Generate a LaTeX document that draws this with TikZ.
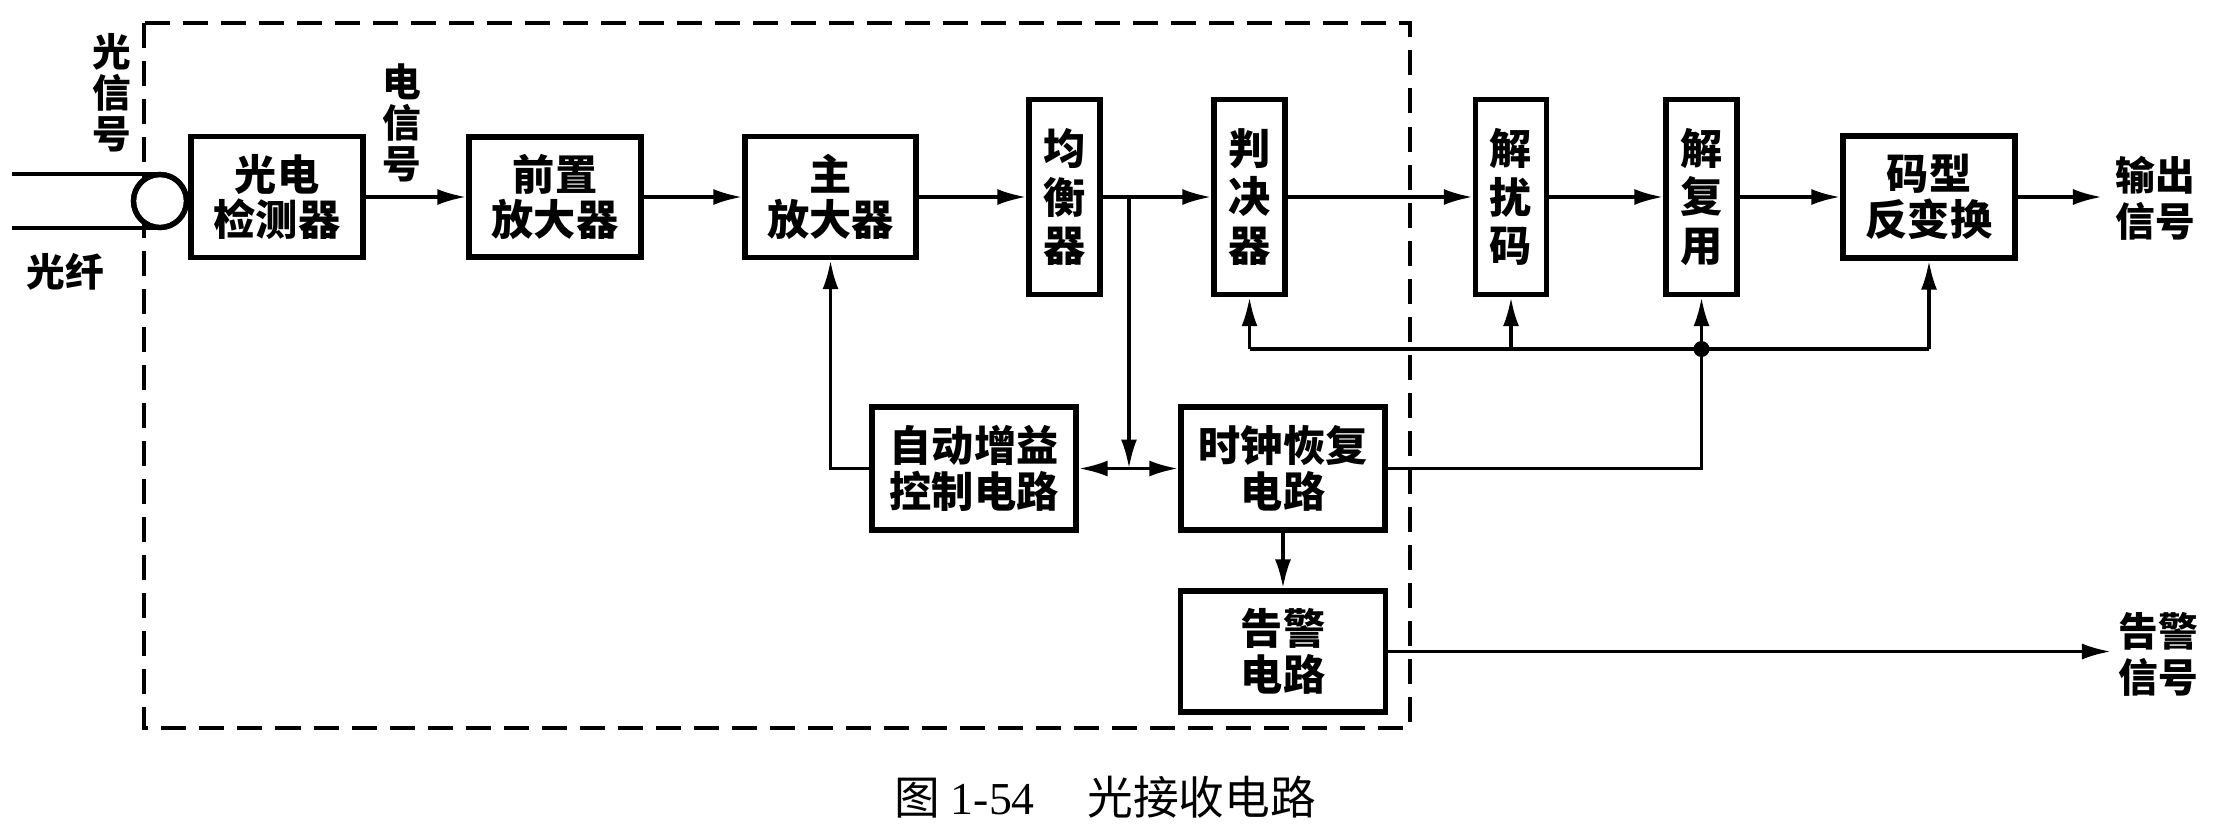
\documentclass[tikz,border=0pt]{standalone}
\usepackage{fontspec}
\setmainfont{Noto Sans CJK SC}
\newfontfamily\serifnum{Liberation Serif}
\usetikzlibrary{arrows.meta}
\begin{document}
\begin{tikzpicture}[x=0.01cm,y=-0.01cm,
  blk/.style={draw,line width=1.5pt,align=center,inner sep=0pt,
    font=\bfseries\fontsize{12pt}{13pt}\selectfont},
  vblk/.style={draw,line width=1.5pt,align=center,inner sep=0pt,
    minimum width=0.71cm,minimum height=1.95cm,
    font=\bfseries\fontsize{12pt}{13.7pt}\selectfont},
  lab/.style={align=center,inner sep=0pt,font=\bfseries\fontsize{11pt}{11.6pt}\selectfont},
  lab2/.style={align=center,inner sep=0pt,font=\bfseries\fontsize{11.3pt}{13pt}\selectfont},
  conn/.style={line width=1pt},
  arr/.style={line width=1pt,-{Latex[length=2.9mm,width=1.6mm]}},
  darr/.style={line width=1pt,{Latex[length=2.9mm,width=1.6mm]}-{Latex[length=2.9mm,width=1.6mm]}},
  frame/.style={line width=0.95pt,dash pattern=on 0.25cm off 0.13cm}]
\useasboundingbox (0,0) rectangle (2220,832);

% dashed enclosure
\draw[frame] (144,23) rectangle (1410,728);

% fibre end
\node[circle,draw,line width=1.5pt,minimum size=0.53cm,inner sep=0pt,fill=white] (lens) at (160,201) {};
\coordinate (f1) at (12,174);
\coordinate (f2) at (12,228);
\draw[line width=1.3pt] (f1) -- (f1 -| lens.center);
\draw[line width=1.3pt] (f2) -- (f2 -| lens.center);
\node[circle,draw,line width=1.5pt,minimum size=0.53cm,inner sep=0pt] at (lens.center) {};

% main row
\node[blk,minimum width=1.72cm,minimum height=1.21cm] (pd) at (277,197) {光电\\检测器};
\node[blk,minimum width=1.72cm,minimum height=1.20cm] (pre) at (555,197) {前置\\放大器};
\node[blk,minimum width=1.71cm,minimum height=1.21cm] (main) at (830.5,197) {主\\放大器};
\node[vblk] (eq) at (1064.5,197) {均\\衡\\器};
\node[vblk] (dec) at (1249.5,197) {判\\决\\器};
\node[vblk] (dsc) at (1511,197) {解\\扰\\码};
\node[vblk] (dmx) at (1701.5,197) {解\\复\\用};
\node[blk,minimum width=1.72cm,minimum height=1.22cm] (code) at (1929,197) {码型\\反变换};

% lower row
\node[blk,minimum width=2.04cm,minimum height=1.23cm] (agc) at (974,468.5) {自动增益\\控制电路};
\node[blk,minimum width=2.04cm,minimum height=1.23cm] (clk) at (1283,468.5) {时钟恢复\\电路};
\node[blk,minimum width=2.05cm,minimum height=1.21cm] (alm) at (1283,651.5) {告警\\电路};

% labels
\node[lab] (sigin) at (112,93) {光\\信\\号};
\node[lab] (fibre) at (65,272) {光纤};
\node[lab] (esig) at (402,123) {电\\信\\号};
\node[lab2] (outlab) at (2155,198.5) {输出\\信号};
\node[lab2] (almlab) at (2158,654.5) {告警\\信号};

% main row connectors
\draw[arr] (pd) -- (pre);
\draw[arr] (pre) -- (main);
\draw[arr] (main) -- (eq);
\draw[arr] (eq) -- (dec);
\draw[arr] (dec) -- (dsc);
\draw[arr] (dsc) -- (dmx);
\draw[arr] (dmx) -- (code);
\coordinate (outend) at (2102,197);
\draw[arr] (code.east) -- (outend);

% branch to clock / AGC
\coordinate (br) at (1129,197);
\draw[arr] (br) -- (br |- agc.east);
\draw[darr] (agc.east) -- (clk.west);
\draw[arr] (agc.west) -| (main.south);
\draw[arr] (clk.south) -- (alm.north);
\coordinate (almend) at (2111,651.5);
\draw[arr] (alm.east) -- (almend);

% clock distribution
\coordinate (dot) at (1701.5,349);
\draw[conn] (dec.south |- dot) -- (code.south |- dot);
\draw[arr] (dec.south |- dot) -- (dec.south);
\draw[arr] (dsc.south |- dot) -- (dsc.south);
\draw[arr] (dot) -- (dmx.south);
\draw[arr] (code.south |- dot) -- (code.south);
\draw[conn] (clk.east) -| (dot);
\fill (dot) circle (0.08cm);

% caption
\node[anchor=west,inner sep=0pt,font=\fontsize{13pt}{15pt}\selectfont] (cap) at (894,797)
  {图\hspace{3pt}{\serifnum 1-54}\hspace{15pt}光接收电路};
\end{tikzpicture}
\end{document}
